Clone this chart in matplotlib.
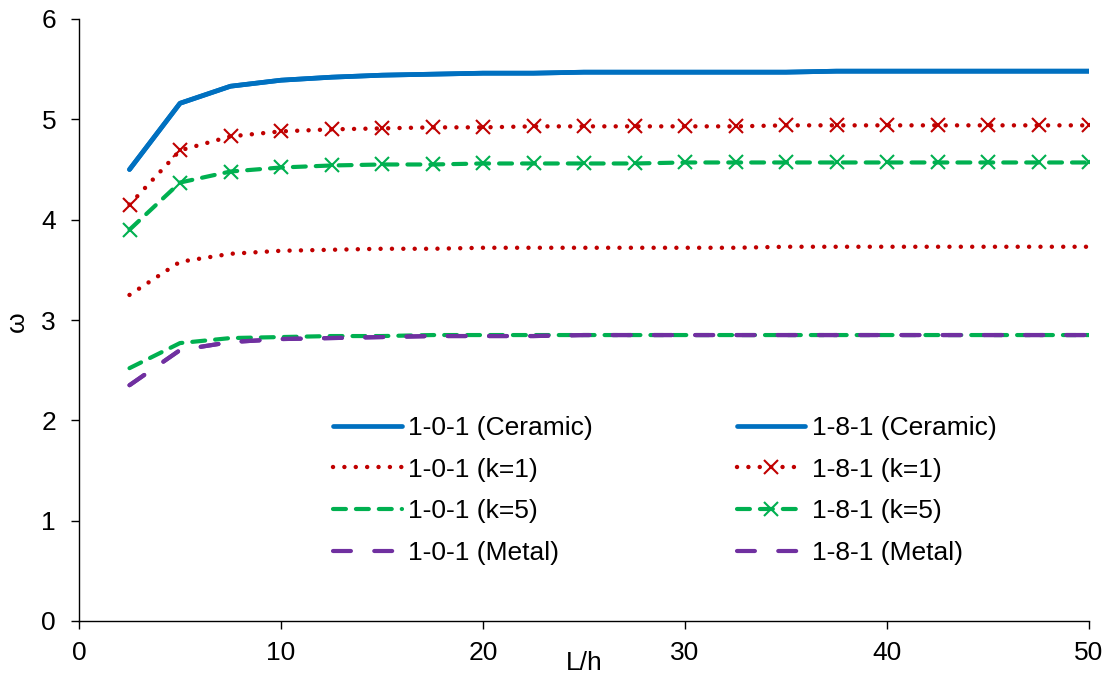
import matplotlib
matplotlib.use("Agg")
import matplotlib.pyplot as plt
from matplotlib.transforms import Affine2D

plt.rcParams['font.family'] = ['Liberation Sans', 'DejaVu Sans']

x = [2.5, 5, 7.5, 10, 12.5, 15, 17.5, 20, 22.5, 25, 27.5, 30, 32.5, 35, 37.5, 40, 42.5, 45, 47.5, 50]

ceramic_101 = [4.50, 5.16, 5.33, 5.39, 5.42, 5.44, 5.45, 5.46, 5.46, 5.47, 5.47, 5.47, 5.47, 5.47, 5.48, 5.48, 5.48, 5.48, 5.48, 5.48]
ceramic_181 = [4.50, 5.16, 5.33, 5.39, 5.42, 5.44, 5.45, 5.46, 5.46, 5.47, 5.47, 5.47, 5.47, 5.47, 5.48, 5.48, 5.48, 5.48, 5.48, 5.48]
k1_101 = [3.25, 3.58, 3.66, 3.69, 3.70, 3.71, 3.71, 3.72, 3.72, 3.72, 3.72, 3.72, 3.72, 3.73, 3.73, 3.73, 3.73, 3.73, 3.73, 3.73]
k1_181 = [4.15, 4.69, 4.83, 4.88, 4.90, 4.91, 4.92, 4.92, 4.93, 4.93, 4.93, 4.93, 4.93, 4.94, 4.94, 4.94, 4.94, 4.94, 4.94, 4.94]
k5_101 = [2.52, 2.77, 2.82, 2.83, 2.84, 2.84, 2.85, 2.85, 2.85, 2.85, 2.85, 2.85, 2.85, 2.85, 2.85, 2.85, 2.85, 2.85, 2.85, 2.85]
k5_181 = [3.90, 4.37, 4.48, 4.52, 4.54, 4.55, 4.55, 4.56, 4.56, 4.56, 4.56, 4.57, 4.57, 4.57, 4.57, 4.57, 4.57, 4.57, 4.57, 4.57]
metal_101 = [2.35, 2.70, 2.78, 2.81, 2.82, 2.83, 2.84, 2.84, 2.84, 2.85, 2.85, 2.85, 2.85, 2.85, 2.85, 2.85, 2.85, 2.85, 2.85, 2.85]
metal_181 = [2.35, 2.70, 2.78, 2.81, 2.82, 2.83, 2.84, 2.84, 2.84, 2.85, 2.85, 2.85, 2.85, 2.85, 2.85, 2.85, 2.85, 2.85, 2.85, 2.85]

labels = ['1-0-1 (Ceramic)', '1-8-1 (Ceramic)', '1-0-1 (k=1)', '1-8-1 (k=1)',
          '1-0-1 (k=5)', '1-8-1 (k=5)', '1-0-1 (Metal)', '1-8-1 (Metal)']
xticks = [0, 10, 20, 30, 40, 50]
yticks = [0, 1, 2, 3, 4, 5, 6]

BLUE = '#0070C0'
RED = '#C00000'
GREEN = '#00B050'
PURPLE = '#7030A0'
FS = 19

W, H = 1111, 682
fig = plt.figure(figsize=(W / 100, H / 100), dpi=100)
L, R, B, T = 79, 1089, 621, 19
ax = fig.add_axes([L / W, 1 - B / H, (R - L) / W, (B - T) / H])

dot = (0, (0.01, 2.55))
dash5 = (0, (3.1, 2.4))
dashm = (0, (4.3, 5.6))

h = {}
h[0], = ax.plot(x, ceramic_101, color=BLUE, lw=3.4, solid_capstyle='round', solid_joinstyle='round')
h[1], = ax.plot(x, ceramic_181, color=BLUE, lw=3.4, solid_capstyle='round', solid_joinstyle='round')
h[2], = ax.plot(x, k1_101, color=RED, lw=3.2, linestyle=dot, dash_capstyle='round')
h[3], = ax.plot(x, k1_181, color=RED, lw=3.2, linestyle=dot, dash_capstyle='round',
                marker='x', markersize=10, markeredgewidth=1.5)
h[4], = ax.plot(x, k5_101, color=GREEN, lw=3.0, linestyle=dash5, dash_capstyle='round')
h[5], = ax.plot(x, k5_181, color=GREEN, lw=3.0, linestyle=dash5, dash_capstyle='round',
                marker='x', markersize=10, markeredgewidth=1.5)
h[6], = ax.plot(x, metal_101, color=PURPLE, lw=3.0, linestyle=dashm, dash_capstyle='round')
h[7], = ax.plot(x, metal_181, color=PURPLE, lw=3.0, linestyle=dashm, dash_capstyle='round')

ax.set_xlim(0, 50)
ax.set_ylim(0, 6)
ax.set_xticks(xticks)
ax.set_yticks(yticks)
for s in ['top', 'right']:
    ax.spines[s].set_visible(False)
for s in ['left', 'bottom']:
    ax.spines[s].set_linewidth(1.0)
    ax.spines[s].set_color('#000000')
ax.tick_params(axis='both', direction='out', length=5.5, width=1.0, labelsize=FS, colors='#000000')
ax.tick_params(axis='x', pad=9)
ax.tick_params(axis='y', pad=11)

ax.set_xlabel('L/h', fontsize=FS, va='center', ha='center')
ax.xaxis.set_label_coords((584 - L) / (R - L), -(663 - B) / (B - T))
ax.set_ylabel('ω', fontsize=FS, rotation=90, va='center', ha='center', rotation_mode='default')
ax.yaxis.set_label_coords((17 - L) / (R - L), (B - 322) / (B - T))

order = [0, 2, 4, 6, 1, 3, 5, 7]
px = Affine2D().scale(1.0, -1.0).translate(0, H)
ax.legend([h[i] for i in order], [labels[i] for i in order], ncol=2, frameon=False,
          fontsize=FS, loc='upper left', bbox_to_anchor=(333, 416), bbox_transform=px,
          borderpad=0, borderaxespad=0,
          handlelength=2.6, handletextpad=0.25, columnspacing=5.45, labelspacing=0.67)

fig.savefig('out.png', dpi=100)
